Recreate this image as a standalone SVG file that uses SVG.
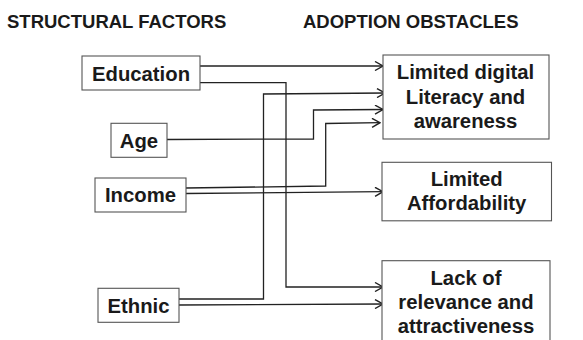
<svg xmlns="http://www.w3.org/2000/svg" width="583" height="340" viewBox="0 0 583 340">
<style>
.hdr{font-family:"Liberation Sans",Arial,sans-serif;font-weight:bold;font-size:18.5px;fill:#1a1a1a}
.lbl{font-family:"Liberation Sans",Arial,sans-serif;font-weight:bold;font-size:20.3px;fill:#1a1a1a;text-anchor:middle}
.box{fill:#fff;stroke:#555;stroke-width:1.1}
.conn{fill:none;stroke:#222;stroke-width:1.3}
</style>
<defs>
<marker id="arr" viewBox="0 0 10 10" refX="9" refY="5" markerWidth="10" markerHeight="10" markerUnits="userSpaceOnUse" orient="auto">
<path d="M1,0.5 L9,5 L1,9.5" fill="none" stroke="#222" stroke-width="1.4"/>
</marker>
</defs>
<rect width="583" height="340" fill="#fff"/>
<text class="hdr" x="7" y="28">STRUCTURAL FACTORS</text>
<text class="hdr" x="303" y="28">ADOPTION OBSTACLES</text>
<g id="connectors">
<path class="conn" d="M200,66 L383,66" marker-end="url(#arr)"/>
<path class="conn" d="M200,82.7 L286,82.7 L286,287 L383,287" marker-end="url(#arr)"/>
<path class="conn" d="M179,299 L263.5,299 L263.5,94 L385,93" marker-end="url(#arr)"/>
<path class="conn" d="M179,305 L383,304" marker-end="url(#arr)"/>
<path class="conn" d="M167,139.5 L313.5,139 L313.5,110 L383,109.5" marker-end="url(#arr)"/>
<path class="conn" d="M186,188 L325.7,186 L325.7,123.5 L380,122.7" marker-end="url(#arr)"/>
<path class="conn" d="M186,193.5 L383,191.7" marker-end="url(#arr)"/>
</g>
<g id="education">
<rect class="box" x="82" y="56" width="118" height="34"/>
<text class="lbl" x="141" y="80.5">Education</text>
</g>
<g id="age">
<rect class="box" x="111" y="123.3" width="56" height="34"/>
<text class="lbl" x="139" y="147.5">Age</text>
</g>
<g id="income">
<rect class="box" x="95" y="178" width="91" height="34"/>
<text class="lbl" x="140.5" y="202.3">Income</text>
</g>
<g id="ethnic">
<rect class="box" x="98" y="288.3" width="81" height="34"/>
<text class="lbl" x="138.5" y="312.7">Ethnic</text>
</g>
<g id="literacy">
<rect class="box" x="383" y="55" width="166" height="84"/>
<text class="lbl" x="465.5" y="79">Limited digital</text>
<text class="lbl" x="465.5" y="103.5">Literacy and</text>
<text class="lbl" x="465.5" y="128">awareness</text>
</g>
<g id="affordability">
<rect class="box" x="382" y="162.3" width="169.5" height="58.5"/>
<text class="lbl" x="466.7" y="186">Limited</text>
<text class="lbl" x="466.7" y="210">Affordability</text>
</g>
<g id="relevance">
<rect class="box" x="382" y="260.7" width="168" height="90"/>
<text class="lbl" x="466" y="285">Lack of</text>
<text class="lbl" x="466" y="309.3">relevance and</text>
<text class="lbl" x="466" y="333.3">attractiveness</text>
</g>
</svg>
